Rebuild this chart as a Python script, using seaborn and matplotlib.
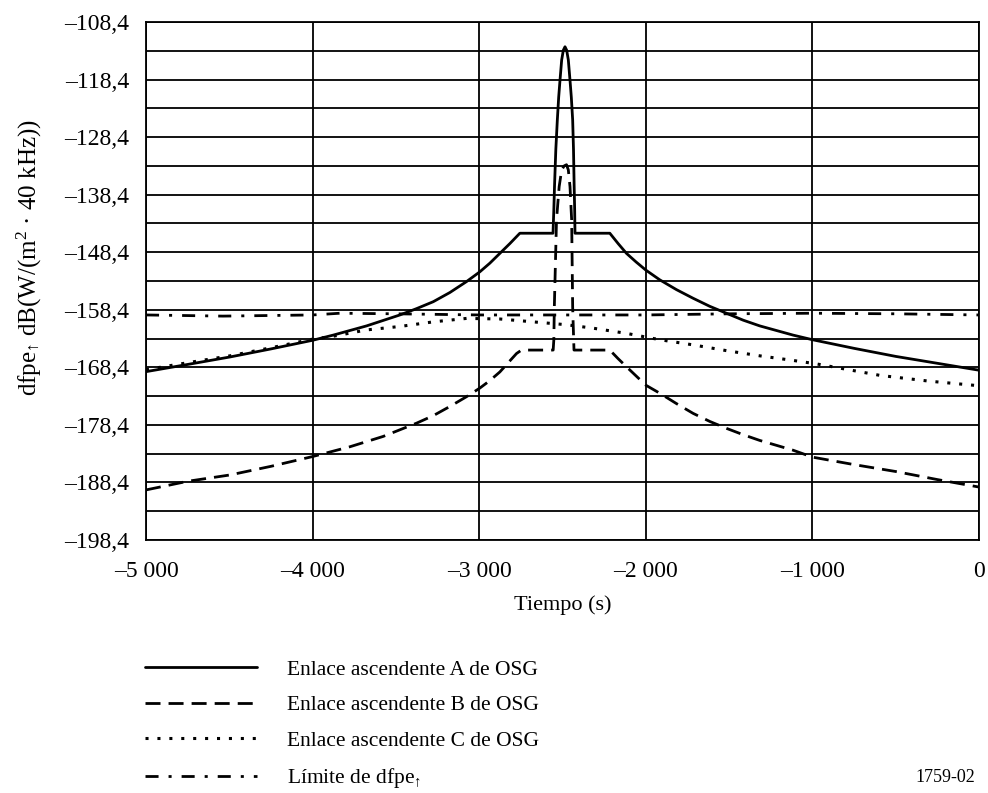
import matplotlib
matplotlib.use("Agg")
import matplotlib.pyplot as plt
import seaborn as sns
import numpy as np
import pandas as pd
from matplotlib.ticker import FixedLocator, FuncFormatter

# ---- data ----
xa = [-5000, -4750, -4496, -4250, -4000, -3876, -3676, -3476, -3376, -3276, -3176, -3076,
      -2996, -2936, -2876, -2816, -2756, -2557, -2552, -2548, -2540, -2531, -2523, -2515,
      -2505, -2495, -2485, -2475, -2465, -2455, -2447, -2439, -2434, -2430, -2427, -2425,
      -2216, -2166, -2116, -2058, -2000, -1916, -1816, -1716, -1616, -1516, -1416, -1316,
      -1116, -1000, -750, -500, -250, 0]
ya = [-169.15, -167.9, -166.6, -165.2, -163.7, -162.8, -161.2, -159.3, -158.2, -157.0, -155.4, -153.5,
      -151.8, -150.3, -148.6, -146.9, -145.1, -145.1, -141.0, -137.0, -130.5, -125.4, -121.5, -118.5,
      -115.0, -113.3, -112.7, -113.3, -115.0, -118.5, -121.5, -125.4, -130.5, -137.0, -141.0, -145.1,
      -145.1, -146.9, -148.6, -150.1, -151.5, -153.2, -154.9, -156.4, -157.8, -159.0, -160.2, -161.2,
      -162.8, -163.6, -165.1, -166.5, -167.7, -168.9]

xb = [-5000, -4750, -4496, -4250, -4000, -3776, -3576, -3376, -3276, -3176, -3076, -2996,
      -2936, -2876, -2776, -2746, -2556, -2552, -2549, -2536, -2520, -2505, -2490, -2476,
      -2465, -2455, -2445, -2439, -2433, -2431, -2216, -2166, -2116, -2058, -2000, -1916,
      -1816, -1716, -1616, -1516, -1416, -1316, -1116, -1000, -750, -500, -250, 0]
yb = [-189.7, -188.2, -187.1, -185.6, -183.9, -182.2, -180.4, -178.1, -176.8, -175.2, -173.5, -172.0,
      -170.7, -169.2, -166.0, -165.4, -165.4, -163.6, -157.9, -142.8, -137.0, -134.1, -133.4, -133.2,
      -134.1, -137.0, -142.8, -157.9, -163.6, -165.4, -165.4, -166.9, -168.3, -169.9, -171.5, -172.9,
      -174.7, -176.4, -177.8, -179.0, -180.1, -181.1, -182.8, -184.0, -185.3, -186.5, -187.9, -189.2]

xc = [-5000, -4750, -4496, -4250, -4000, -3876, -3676, -3476, -3276, -3076, -2876, -2676,
      -2476, -2316, -2116, -1916, -1716, -1516, -1316, -1116, -976, -594, -300, 0]
yc = [-168.8, -167.6, -166.4, -165.0, -163.5, -163.0, -161.9, -161.3, -160.5, -159.9, -160.0, -160.5,
      -161.0, -161.6, -162.5, -163.6, -164.5, -165.5, -166.4, -167.2, -167.8, -169.8, -170.8, -171.6]

xd = [-5000, -4538, -4000, -3836, -3500, -3000, -2500, -2000, -1500, -1000, -500, 0]
yd = [-159.3, -159.5, -159.3, -159.0, -159.1, -159.3, -159.3, -159.3, -159.1, -159.0, -159.1, -159.3]

labels = ["Enlace ascendente A de OSG", "Enlace ascendente B de OSG",
          "Enlace ascendente C de OSG", "Límite de dfpe$_{↑}$"]

xticks = [-5000, -4000, -3000, -2000, -1000, 0]
yticks_major = [-198.4, -188.4, -178.4, -168.4, -158.4, -148.4, -138.4, -128.4, -118.4, -108.4]
yticks_minor = [-193.4, -183.4, -173.4, -163.4, -153.4, -143.4, -133.4, -123.4, -113.4]

# ---- style ----
sns.set_theme(style="white")
plt.rcParams['font.family'] = ['Liberation Serif', 'DejaVu Serif']
plt.rcParams['mathtext.fontset'] = 'custom'
plt.rcParams['mathtext.rm'] = 'Liberation Serif'
plt.rcParams['mathtext.it'] = 'Liberation Serif:italic'
plt.rcParams['mathtext.bf'] = 'Liberation Serif:bold'

fig = plt.figure(figsize=(9.88, 7.93), dpi=100)
ax = fig.add_axes([146/988, 1 - 540/793, (979-146)/988, (540-22)/793])

styles = ['-', (0, (5.4, 2.9)), (0, (1.0, 2.9)), (0, (4.7, 3.6, 1.1, 3.6))]
widths = [2.0, 2.0, 2.2, 2.0]
series = [(xa, ya), (xb, yb), (xc, yc), (xd, yd)]
for (x, y), ls, lw, lab in zip(series, styles, widths, labels):
    df = pd.DataFrame({"t": x, "v": y})
    sns.lineplot(data=df, x="t", y="v", ax=ax, color="black", linewidth=lw,
                 linestyle=ls, label=lab, estimator=None, sort=False)

ax.set_xlim(-5000, 0)
ax.set_ylim(-198.4, -108.4)

def fmt_y(v, pos):
    s = f"{abs(v):.1f}".replace(".", ",")
    return ("\u2013" + s) if v < 0 else s

def fmt_x(v, pos):
    s = f"{abs(int(round(v))):,}".replace(",", " ")
    return ("\u2013" + s) if v < 0 else s

ax.xaxis.set_major_locator(FixedLocator(xticks))
ax.xaxis.set_major_formatter(FuncFormatter(fmt_x))
ax.yaxis.set_major_locator(FixedLocator(yticks_major))
ax.yaxis.set_minor_locator(FixedLocator(yticks_minor))
ax.yaxis.set_major_formatter(FuncFormatter(fmt_y))

ax.grid(True, which='major', axis='both', color='black', linewidth=1.3)
ax.grid(True, which='minor', axis='y', color='black', linewidth=1.3)
ax.set_axisbelow(True)
for sp in ax.spines.values():
    sp.set_color('black')
    sp.set_linewidth(1.3)
ax.tick_params(axis='both', which='both', length=0, labelsize=17, colors='black')
ax.tick_params(axis='y', pad=12)
ax.tick_params(axis='x', pad=15)

ax.set_xlabel("Tiempo (s)", fontsize=16, color='black', labelpad=10)
ax.set_ylabel("dfpe$_{↑}$ dB(W/(m$^{2}$ · 40 kHz))", fontsize=18, color='black')
ax.yaxis.set_label_coords(-0.122, 0.545)

handles, labs = ax.get_legend_handles_labels()
ax.get_legend().remove()
leg = fig.legend(handles, labs, loc='upper left', bbox_to_anchor=(136/988, 1 - 651/793),
                 frameon=False, fontsize=15.5, handlelength=5.2, handletextpad=1.4,
                 labelspacing=0.72, borderaxespad=0)
for t in leg.get_texts():
    t.set_color('black')

fig.text(975/988, 1 - 777/793, "1759-02", fontsize=13, ha='right', va='center', color='black')

fig.savefig("out.png", dpi=100)
